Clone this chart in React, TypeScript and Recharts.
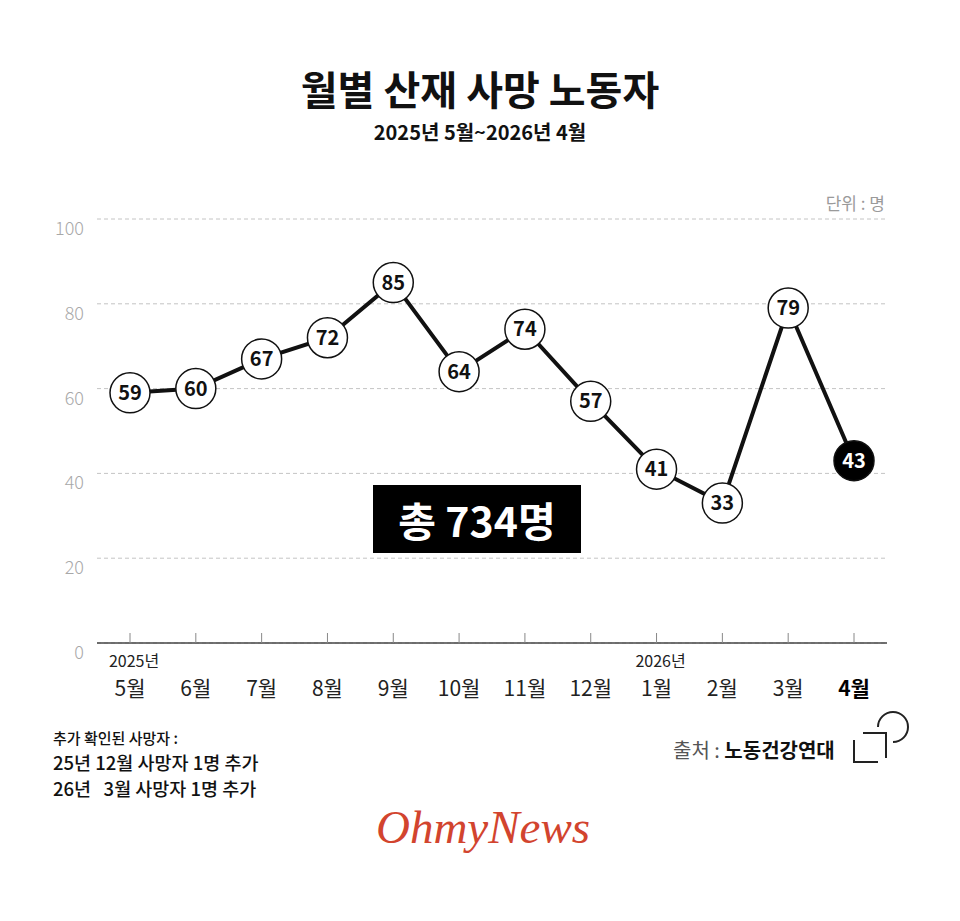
import React from 'react';
import { LineChart, Line, XAxis, YAxis, CartesianGrid } from 'recharts';

const months = ['5월', '6월', '7월', '8월', '9월', '10월', '11월', '12월', '1월', '2월', '3월', '4월'];
const yearLabels = ['2025년', '', '', '', '', '', '', '', '2026년', '', '', ''];
const deaths = [59, 60, 67, 72, 85, 64, 74, 57, 41, 33, 79, 43];
const yTicks = [0, 20, 40, 60, 80, 100];
const totalLabel = '총 734명';

const data = months.map((m, i) => ({ month: m, year: yearLabels[i], v: deaths[i] }));

const FONT = '"Noto Sans CJK KR", "Noto Sans", sans-serif';
const lastIndex = deaths.length - 1;

const XTick = (props: any) => {
  const { x, y, payload, index } = props;
  const isLast = index === lastIndex;
  const year = yearLabels[index];
  return (
    <g>
      <line x1={x} y1={y - 10} x2={x} y2={y} stroke="#888" strokeWidth={1} />
      {year ? (
        <text x={x + 4} y={y + 24} textAnchor="middle" fontSize={16} fill="#222" fontFamily={FONT}>
          {year}
        </text>
      ) : null}
      <text
        x={x}
        y={y + 53}
        textAnchor="middle"
        fontSize={21}
        fontWeight={isLast ? 700 : 400}
        fill={isLast ? '#000' : '#222'}
        fontFamily={FONT}
      >
        {payload.value}
      </text>
    </g>
  );
};

const YTick = (props: any) => {
  const { x, y, payload } = props;
  return (
    <text x={x} y={y + 16} textAnchor="end" fontSize={18} fontWeight={300} fill="#a8a8a8" fontFamily={FONT}>
      {payload.value}
    </text>
  );
};

const Dot = (props: any) => {
  const { cx, cy, index, payload } = props;
  const isLast = index === lastIndex;
  return (
    <g key={`dot-${index}`}>
      <circle cx={cx} cy={cy} r={20} fill={isLast ? '#000' : '#fff'} stroke="#111" strokeWidth={1.5} />
      <text
        x={cx}
        y={cy + 7}
        textAnchor="middle"
        fontSize={20}
        fontWeight={700}
        fill={isLast ? '#fff' : '#111'}
        fontFamily={FONT}
      >
        {payload.v}
      </text>
    </g>
  );
};

export default function App() {
  return (
    <div
      style={{
        position: 'absolute',
        left: 0,
        top: 0,
        width: 960,
        height: 921,
        background: '#fff',
        fontFamily: FONT,
        overflow: 'hidden',
      }}
    >
      <LineChart
        width={960}
        height={921}
        data={data}
        margin={{ top: 219, right: 73, left: 57, bottom: 198 }}
      >
        <CartesianGrid vertical={false} stroke="#c4c4c4" strokeDasharray="4 3" strokeWidth={1} />
        <XAxis
          dataKey="month"
          height={80}
          padding={{ left: 33, right: 33 }}
          tickLine={false}
          tickSize={0}
          tickMargin={0}
          axisLine={{ stroke: '#444', strokeWidth: 1.5 }}
          tick={<XTick />}
          interval={0}
        />
        <YAxis
          width={40}
          domain={[0, 100]}
          ticks={yTicks}
          axisLine={false}
          tickLine={false}
          tickSize={0}
          tickMargin={13}
          tick={<YTick />}
        />
        <Line
          type="linear"
          dataKey="v"
          stroke="#111"
          strokeWidth={4}
          dot={Dot}
          activeDot={false}
          isAnimationActive={false}
        />
      </LineChart>

      <div style={{ position: 'absolute', left: 0, top: 68, width: 960, textAlign: 'center', fontSize: 40, lineHeight: '40px', fontWeight: 700, color: '#111' }}>
        월별 산재 사망 노동자
      </div>
      <div style={{ position: 'absolute', left: 0, top: 122, width: 960, textAlign: 'center', fontSize: 20, lineHeight: '20px', fontWeight: 700, color: '#111' }}>
        2025년 5월~2026년 4월
      </div>
      <div style={{ position: 'absolute', left: 0, top: 194, width: 885, textAlign: 'right', fontSize: 17, lineHeight: '17px', color: '#9a9a9a' }}>
        단위 : 명
      </div>

      <div
        style={{
          position: 'absolute',
          left: 373,
          top: 485,
          width: 208,
          height: 68,
          background: '#000',
          color: '#fff',
          display: 'flex',
          alignItems: 'center',
          justifyContent: 'center',
          fontSize: 41,
          fontWeight: 700,
        }}
      >
        {totalLabel}
      </div>

      <div style={{ position: 'absolute', left: 53, top: 730, fontSize: 15, lineHeight: '15px', fontWeight: 500, color: '#111' }}>
        추가 확인된 사망자 :
      </div>
      <div style={{ position: 'absolute', left: 53, top: 753, fontSize: 18.5, lineHeight: '18px', fontWeight: 500, color: '#111', whiteSpace: 'pre' }}>
        25년 12월 사망자 1명 추가
      </div>
      <div style={{ position: 'absolute', left: 53, top: 779, fontSize: 18.5, lineHeight: '18px', fontWeight: 500, color: '#111', whiteSpace: 'pre' }}>
        {'26년   3월 사망자 1명 추가'}
      </div>

      <div style={{ position: 'absolute', left: 673, top: 740, fontSize: 20, lineHeight: '20px', whiteSpace: 'pre' }}>
        <span style={{ color: '#555', fontWeight: 400 }}>출처 : </span>
        <span style={{ color: '#111', fontWeight: 700 }}>노동건강연대</span>
      </div>
      <svg style={{ position: 'absolute', left: 845, top: 705 }} width={70} height={65}>
        <path d="M9 35 V57 H33" fill="none" stroke="#222" strokeWidth={2} />
        <path d="M18 28 H41 V53" fill="none" stroke="#222" strokeWidth={2} />
        <path d="M33 22 A15 15 0 1 1 48 37" fill="none" stroke="#222" strokeWidth={2} />
      </svg>

      <div
        style={{
          position: 'absolute',
          left: 0,
          top: 804,
          width: 966,
          textAlign: 'center',
          fontFamily: '"Liberation Serif", "DejaVu Serif", serif',
          fontStyle: 'italic',
          fontSize: 47,
          lineHeight: '47px',
          color: '#d2442e',
        }}
      >
        OhmyNews
      </div>
    </div>
  );
}
